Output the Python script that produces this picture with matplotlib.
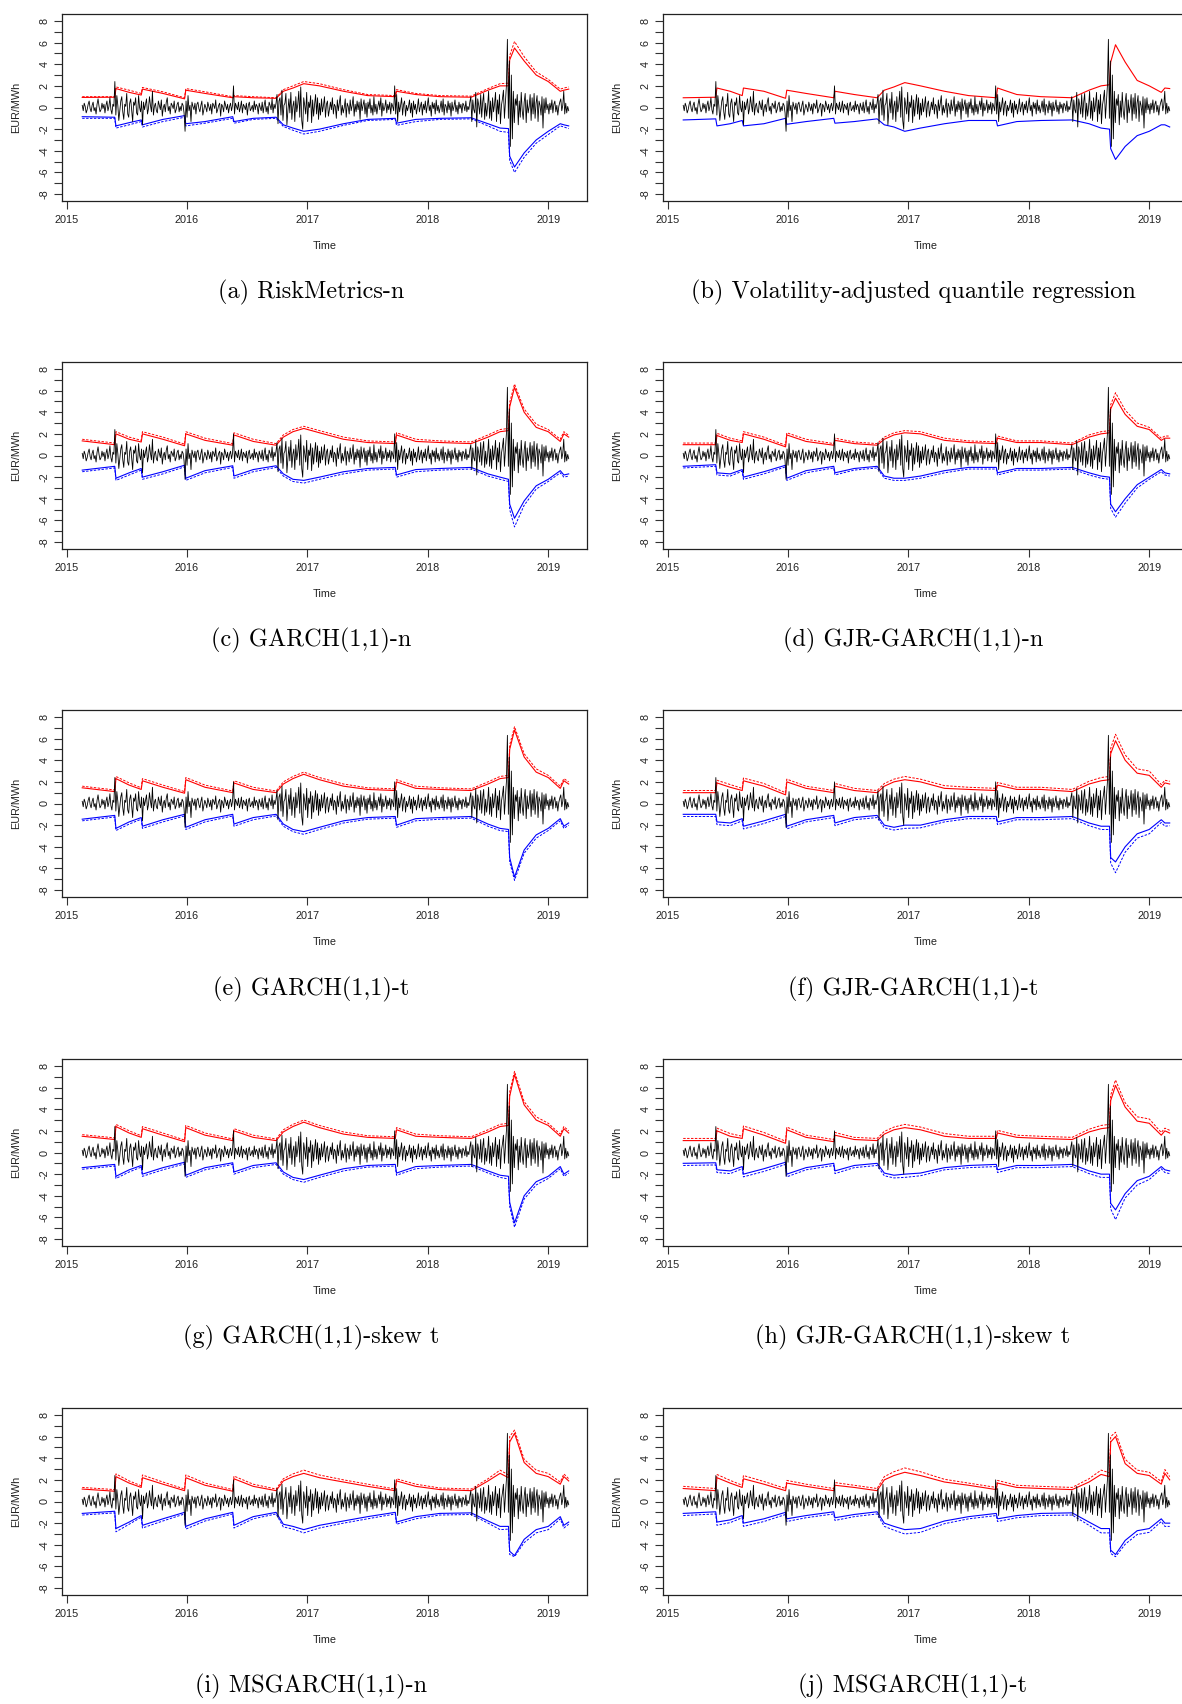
import numpy as np
import matplotlib
matplotlib.use("Agg")
import matplotlib.pyplot as plt
from matplotlib.ticker import FixedLocator, FuncFormatter
from matplotlib.font_manager import FontProperties

# ---------------- data ----------------
t_start, t_end = 2015.13, 2019.17

# daily price changes (EUR/MWh), same series in every panel
black = [
    0.2,-0.3,0.4,0.1,-0.5,-0.2,0.3,0.6,-0.1,-0.4,0.2,0.5,-0.3,0.0,-0.6,0.3,0.8,0.1,-0.4,-0.2,0.4,-0.1,0.3,-0.5,0.2,0.6,-0.3,0.1,0.9,-0.2,-0.6,0.3,0.1,
    2.4,
    -0.7,1.1,0.2,-1.2,-0.3,0.6,1.0,-0.4,-1.1,0.3,0.1,1.3,-0.6,-0.9,0.4,0.8,-0.2,-1.3,0.5,0.2,0.9,-0.5,-0.7,1.1,0.0,-0.4,0.6,
    -1.6,
    0.5,-0.2,0.3,0.8,-0.6,-0.1,1.0,0.2,-0.4,1.5,-0.7,0.1,0.4,-0.3,-0.5,0.6,0.2,-0.2,0.7,-0.8,0.0,0.3,-0.4,0.5,0.9,-0.3,0.1,-0.6,0.4,0.2,-0.1,0.6,-0.5,-0.2,0.3,0.5,-0.4,0.1,-0.3,0.4,0.2,-0.5,
    -2.2,
    0.6,-0.9,1.1,-0.3,0.2,-1.3,0.5,0.1,-0.2,0.4,-0.6,0.3,0.5,-0.1,-0.4,0.2,0.6,-0.7,-0.2,0.3,0.0,-0.4,0.5,0.1,-0.3,0.3,-0.6,0.4,0.2,-0.1,0.7,-0.5,-0.2,0.2,0.4,-0.8,0.3,0.1,-0.4,0.6,0.2,-0.2,0.3,-0.5,0.1,0.4,-0.3,0.2,
    2.0,
    -0.6,0.4,0.1,-0.2,0.5,-0.4,0.0,0.6,-0.5,0.3,0.1,-0.2,0.4,-0.7,0.2,0.5,-0.3,-0.1,0.2,-0.4,0.6,-0.2,0.3,0.1,-0.6,0.4,0.0,-0.3,0.5,-0.5,0.2,0.7,-0.4,0.1,-0.6,0.5,0.2,-0.2,0.8,-0.5,0.3,-0.1,0.4,
    1.2,-1.5,0.6,0.9,-0.7,1.6,-1.2,0.2,0.4,1.3,-1.6,-0.3,0.8,-0.5,1.4,-1.1,0.1,0.6,-1.3,1.0,-0.4,0.3,1.5,-0.9,1.9,-1.2,-2.0,0.9,0.2,-0.6,1.4,-1.3,0.5,0.0,1.1,-1.4,0.7,-0.8,0.3,1.2,-0.6,0.9,-1.1,
    0.4,-0.7,0.8,-0.4,0.2,1.0,-0.9,0.3,0.6,-0.8,-0.2,0.5,-0.2,0.9,-0.6,0.3,0.1,-1.0,0.7,-0.3,0.4,1.1,-0.7,0.2,-0.5,0.0,0.8,-0.9,0.4,0.1,-0.6,0.7,-0.3,0.2,1.0,-0.8,0.3,-0.4,0.6,-0.2,0.5,-1.1,0.8,-0.3,0.2,0.7,-0.6,0.4,-0.9,0.5,-0.1,0.8,-0.5,0.2,-0.7,1.0,-0.4,0.3,-0.6,0.1,0.6,-0.2,0.9,-0.8,0.4,-0.3,0.0,0.7,-0.5,0.3,-0.2,0.5,-0.6,0.4,0.1,-0.3,
    2.0,
    -0.6,1.2,-1.3,0.5,-0.4,0.2,0.9,-0.7,0.3,0.6,-0.8,0.2,-0.3,0.1,0.7,-0.5,0.4,-0.9,0.6,-0.2,0.3,-0.6,0.0,0.8,-0.4,0.1,0.5,-0.7,0.3,-0.2,0.6,-0.5,0.2,0.9,-0.3,0.2,-0.8,0.5,-0.1,0.4,-0.6,0.7,-0.3,0.2,-0.5,0.0,0.6,-0.4,0.8,-0.7,0.3,0.1,-0.5,0.6,-0.2,0.4,-0.8,0.5,-0.3,0.1,0.7,-0.4,0.2,-0.6,0.5,-0.1,0.3,-0.5,0.4,0.2,-0.3,0.6,-0.4,0.1,-0.2,0.5,
    1.0,-1.3,0.7,-0.2,-0.5,1.4,-1.8,0.8,0.2,-0.6,1.2,-0.9,0.5,1.3,-1.1,0.4,-0.8,0.1,1.5,-1.0,0.6,-1.2,0.9,-0.4,0.3,1.4,-1.3,0.7,-0.6,1.2,-1.5,0.2,0.8,1.6,-1.0,0.5,2.0,
    6.3,-1.0,4.3,-3.6,3.0,-2.9,
    1.5,-1.4,0.8,0.2,1.2,-1.6,0.6,-0.9,1.4,-0.3,-1.1,0.5,1.3,-1.4,0.7,-0.5,0.1,1.2,-1.2,0.9,-0.6,1.3,-1.0,0.4,1.1,-1.3,0.6,0.2,-0.7,1.0,-1.9,0.8,-0.5,0.9,-0.2,0.3,
    -0.6,0.4,-0.2,0.7,-0.5,0.3,0.6,-0.4,0.2,-0.7,0.1,0.5,0.8,-0.3,0.2,1.5,-0.6,0.4,-0.5,0.1,-0.3,
]

# times (decimal years) at which the VaR bands are read
knot_t = [2015.13, 2015.40, 2015.41, 2015.52, 2015.62, 2015.63, 2015.80, 2015.98, 2015.99, 2016.15,
          2016.38, 2016.39, 2016.55, 2016.74, 2016.80, 2016.88, 2016.97, 2017.10, 2017.30, 2017.50,
          2017.73, 2017.74, 2017.90, 2018.10, 2018.36, 2018.50, 2018.60, 2018.67, 2018.68, 2018.72,
          2018.80, 2018.90, 2019.00, 2019.10, 2019.13, 2019.17]

captions = ["(a) RiskMetrics-n", "(b) Volatility-adjusted quantile regression",
            "(c) GARCH(1,1)-n", "(d) GJR-GARCH(1,1)-n",
            "(e) GARCH(1,1)-t", "(f) GJR-GARCH(1,1)-t",
            "(g) GARCH(1,1)-skew t", "(h) GJR-GARCH(1,1)-skew t",
            "(i) MSGARCH(1,1)-n", "(j) MSGARCH(1,1)-t"]

up_a = [0.93,0.95,1.75,1.4,1.15, 1.7,1.3,0.8,1.6,1.3, 0.9,1.0,0.9,0.85,1.5, 1.8,2.2,2.0,1.5,1.1, 1.0,1.5,1.2,1.0,0.95, 1.6,2.0,2.0,4.4,5.5, 4.3,3.0,2.4,1.5,1.6, 1.7]
upd_a = [1.0,1.0,1.9,1.6,1.3, 1.85,1.45,0.9,1.75,1.45, 1.0,1.1,1.0,0.9,1.65, 2.0,2.4,2.2,1.65,1.2, 1.1,1.65,1.3,1.1,1.05, 1.75,2.2,2.25,4.8,6.1, 4.7,3.3,2.6,1.7,1.8, 1.9]
lo_a = [-0.85,-0.9,-1.7,-1.4,-1.15, -1.6,-1.1,-0.75,-1.5,-1.3, -0.85,-1.3,-1.0,-0.9,-1.6, -1.9,-2.2,-2.0,-1.5,-1.1, -1.0,-1.45,-1.1,-1.0,-0.95, -1.5,-1.9,-1.95,-4.5,-5.5, -4.2,-3.0,-2.2,-1.5,-1.6, -1.7]
lod_a = [-1.0,-1.0,-1.9,-1.6,-1.3, -1.8,-1.3,-0.9,-1.7,-1.45, -1.0,-1.45,-1.1,-1.0,-1.75, -2.1,-2.45,-2.2,-1.65,-1.2, -1.1,-1.65,-1.3,-1.1,-1.05, -1.7,-2.2,-2.3,-4.9,-6.0, -4.6,-3.3,-2.5,-1.7,-1.8, -1.95]

up_b = [0.9,0.95,1.8,1.5,1.1, 1.8,1.5,0.85,1.6,1.3, 0.9,1.5,1.2,0.9,1.6, 1.9,2.3,2.0,1.5,1.1, 0.9,1.8,1.2,1.0,0.9, 1.6,2.0,2.1,4.2,5.8, 4.2,2.5,2.0,1.4,1.8, 1.75]
lo_b = [-1.15,-1.05,-1.7,-1.5,-1.2, -1.7,-1.5,-1.0,-1.55,-1.3, -1.0,-1.45,-1.3,-1.05,-1.6, -1.8,-2.2,-1.9,-1.5,-1.2, -1.2,-1.7,-1.3,-1.2,-1.15, -1.5,-1.9,-2.0,-3.8,-4.8, -3.6,-2.6,-2.2,-1.6,-1.6, -1.8]

up_c = [1.35,1.0,2.0,1.5,1.25, 2.0,1.5,0.9,2.0,1.4, 0.95,1.9,1.3,0.95,1.7, 2.2,2.5,2.1,1.5,1.2, 1.1,1.9,1.3,1.2,1.1, 1.7,2.2,2.3,4.5,6.3, 4.0,2.6,2.2,1.3,2.0, 1.7]
upd_c = [1.5,1.15,2.2,1.7,1.4, 2.2,1.7,1.05,2.2,1.6, 1.1,2.1,1.5,1.1,1.9, 2.4,2.7,2.3,1.7,1.35, 1.25,2.1,1.5,1.35,1.25, 1.9,2.4,2.5,4.9,6.6, 4.3,2.9,2.4,1.5,2.2, 1.85]
lo_c = [-1.35,-1.0,-2.1,-1.6,-1.2, -2.0,-1.5,-0.9,-2.1,-1.4, -0.95,-1.9,-1.3,-0.95,-1.7, -2.2,-2.3,-2.0,-1.5,-1.2, -1.1,-1.8,-1.3,-1.2,-1.1, -1.7,-2.0,-2.2,-4.5,-5.8, -4.2,-2.8,-2.2,-1.4,-1.8, -1.7]
lod_c = [-1.5,-1.15,-2.3,-1.8,-1.35, -2.2,-1.7,-1.05,-2.3,-1.6, -1.1,-2.1,-1.5,-1.1,-1.9, -2.4,-2.55,-2.2,-1.7,-1.35, -1.25,-2.0,-1.5,-1.35,-1.25, -1.9,-2.2,-2.4,-5.0,-6.6, -4.6,-3.1,-2.4,-1.6,-2.0, -1.9]

up_d = [1.0,1.0,1.85,1.4,1.2, 2.0,1.5,0.8,1.9,1.3, 0.95,1.4,1.1,0.95,1.5, 1.9,2.1,2.0,1.4,1.2, 1.1,1.6,1.2,1.2,1.0, 1.7,2.0,2.1,4.3,5.3, 3.8,2.7,2.4,1.4,1.6, 1.6]
upd_d = [1.15,1.15,2.05,1.6,1.35, 2.2,1.7,0.95,2.1,1.5, 1.1,1.6,1.25,1.1,1.7, 2.1,2.3,2.2,1.6,1.35, 1.25,1.8,1.35,1.35,1.15, 1.9,2.2,2.3,4.7,5.8, 4.2,3.0,2.6,1.6,1.8, 1.8]
lo_d = [-1.0,-0.85,-1.6,-1.7,-1.3, -2.0,-1.5,-0.9,-2.1,-1.4, -1.0,-1.6,-1.2,-1.0,-1.9, -2.1,-2.1,-1.9,-1.4,-1.1, -1.1,-1.6,-1.2,-1.2,-1.1, -1.6,-1.9,-2.0,-4.5,-5.2, -4.0,-2.7,-2.0,-1.3,-1.6, -1.7]
lod_d = [-1.15,-1.0,-1.8,-1.9,-1.45, -2.2,-1.7,-1.05,-2.3,-1.6, -1.15,-1.8,-1.35,-1.15,-2.1, -2.3,-2.3,-2.1,-1.6,-1.25, -1.25,-1.8,-1.35,-1.35,-1.25, -1.8,-2.1,-2.2,-4.9,-5.7, -4.4,-3.0,-2.2,-1.5,-1.8, -1.9]

up_e = [1.45,1.1,2.3,1.7,1.3, 2.1,1.5,0.95,2.2,1.5, 1.0,1.9,1.3,1.0,1.8, 2.3,2.7,2.2,1.6,1.3, 1.2,2.0,1.4,1.3,1.2, 1.8,2.3,2.4,5.0,6.8, 4.3,2.9,2.4,1.4,2.1, 1.8]
upd_e = [1.6,1.25,2.5,1.9,1.45, 2.3,1.7,1.1,2.4,1.7, 1.15,2.1,1.5,1.15,2.0, 2.5,2.9,2.4,1.8,1.45, 1.35,2.2,1.6,1.45,1.35, 2.0,2.5,2.6,5.4,7.1, 4.6,3.2,2.6,1.6,2.3, 2.0]
lo_e = [-1.45,-1.1,-2.3,-1.7,-1.3, -2.1,-1.5,-1.0,-2.2,-1.5, -1.0,-1.9,-1.3,-1.0,-1.9, -2.4,-2.6,-2.2,-1.6,-1.3, -1.2,-2.0,-1.4,-1.3,-1.2, -1.9,-2.3,-2.4,-5.0,-6.8, -4.3,-2.9,-2.3,-1.4,-2.1, -1.8]
lod_e = [-1.6,-1.25,-2.5,-1.9,-1.45, -2.3,-1.7,-1.15,-2.4,-1.7, -1.15,-2.1,-1.5,-1.15,-2.1, -2.6,-2.85,-2.4,-1.8,-1.45, -1.35,-2.2,-1.6,-1.45,-1.35, -2.1,-2.5,-2.6,-5.4,-7.1, -4.6,-3.2,-2.5,-1.6,-2.3, -2.0]

up_f = [1.0,1.0,1.9,1.5,1.2, 2.1,1.6,0.8,2.0,1.4, 1.0,1.6,1.2,1.0,1.6, 2.0,2.2,2.0,1.4,1.3, 1.2,1.7,1.3,1.3,1.1, 1.8,2.1,2.2,4.6,5.8, 4.0,2.8,2.6,1.5,1.9, 1.8]
upd_f = [1.2,1.2,2.15,1.75,1.4, 2.35,1.85,1.0,2.25,1.6, 1.2,1.85,1.4,1.2,1.85, 2.25,2.5,2.25,1.65,1.5, 1.4,1.95,1.5,1.5,1.3, 2.05,2.4,2.5,5.1,6.4, 4.5,3.2,3.0,1.75,2.15, 2.05]
lo_f = [-1.0,-1.0,-1.7,-1.8,-1.4, -2.1,-1.6,-1.0,-2.1,-1.5, -1.1,-1.8,-1.3,-1.1,-2.0, -2.2,-2.0,-2.0,-1.5,-1.2, -1.2,-1.7,-1.3,-1.3,-1.2, -1.8,-2.1,-2.1,-5.0,-5.4, -4.0,-2.8,-2.4,-1.5,-1.8, -1.8]
lod_f = [-1.2,-1.2,-1.95,-2.05,-1.6, -2.35,-1.85,-1.2,-2.35,-1.7, -1.3,-2.05,-1.5,-1.3,-2.25, -2.45,-2.3,-2.25,-1.7,-1.4, -1.4,-1.95,-1.5,-1.5,-1.4, -2.05,-2.4,-2.4,-5.5,-6.4, -4.5,-3.2,-2.8,-1.75,-2.1, -2.05]

up_g = [1.5,1.2,2.4,1.8,1.4, 2.2,1.6,1.0,2.3,1.6, 1.1,2.0,1.4,1.1,1.9, 2.4,2.8,2.3,1.7,1.4, 1.3,2.1,1.5,1.4,1.3, 1.9,2.4,2.5,5.2,7.2, 4.4,3.0,2.5,1.5,2.2, 1.8]
upd_g = [1.65,1.35,2.6,2.0,1.55, 2.4,1.8,1.15,2.5,1.8, 1.25,2.2,1.6,1.25,2.1, 2.6,3.0,2.5,1.9,1.55, 1.45,2.3,1.7,1.55,1.45, 2.1,2.6,2.7,5.6,7.5, 4.7,3.3,2.7,1.7,2.4, 2.0]
lo_g = [-1.4,-1.1,-2.2,-1.6,-1.2, -2.0,-1.4,-0.9,-2.1,-1.4, -0.95,-1.8,-1.2,-0.95,-1.8, -2.3,-2.5,-2.1,-1.5,-1.2, -1.1,-1.9,-1.3,-1.2,-1.1, -1.7,-2.1,-2.2,-4.6,-6.5, -4.0,-2.7,-2.2,-1.3,-2.0, -1.7]
lod_g = [-1.55,-1.25,-2.4,-1.8,-1.35, -2.2,-1.6,-1.05,-2.3,-1.6, -1.1,-2.0,-1.4,-1.1,-2.0, -2.5,-2.75,-2.3,-1.7,-1.35, -1.25,-2.1,-1.5,-1.35,-1.25, -1.9,-2.3,-2.45,-5.0,-6.9, -4.3,-3.0,-2.4,-1.5,-2.2, -1.9]

up_h = [1.1,1.1,2.0,1.5,1.3, 2.2,1.6,0.85,2.1,1.4, 1.0,1.6,1.2,1.1,1.7, 2.1,2.3,2.1,1.5,1.3, 1.3,1.8,1.4,1.3,1.2, 1.9,2.2,2.3,4.8,6.2, 4.2,2.9,2.7,1.6,2.0, 1.8]
upd_h = [1.3,1.3,2.25,1.75,1.5, 2.45,1.85,1.05,2.35,1.6, 1.2,1.85,1.4,1.3,1.95, 2.35,2.6,2.35,1.75,1.5, 1.5,2.05,1.6,1.5,1.4, 2.15,2.5,2.6,5.3,6.7, 4.6,3.3,3.1,1.85,2.25, 2.05]
lo_h = [-1.0,-0.95,-1.6,-1.7,-1.3, -2.0,-1.5,-0.9,-2.0,-1.4, -1.0,-1.7,-1.2,-1.0,-1.9, -2.1,-2.0,-1.9,-1.4,-1.2, -1.1,-1.6,-1.2,-1.2,-1.1, -1.7,-2.0,-2.0,-4.7,-5.3, -3.8,-2.6,-2.2,-1.3,-1.6, -1.7]
lod_h = [-1.2,-1.15,-1.85,-1.95,-1.5, -2.25,-1.75,-1.1,-2.25,-1.6, -1.2,-1.95,-1.4,-1.2,-2.15, -2.35,-2.3,-2.15,-1.6,-1.4, -1.3,-1.85,-1.4,-1.4,-1.3, -1.95,-2.3,-2.3,-5.2,-6.2, -4.2,-3.0,-2.5,-1.5,-1.85, -1.95]

up_i = [1.15,0.95,2.3,1.7,1.3, 2.2,1.6,1.0,2.2,1.5, 0.95,2.1,1.4,1.0,1.9, 2.3,2.6,2.2,1.8,1.4, 1.0,1.9,1.4,1.1,1.0, 1.9,2.6,2.2,5.5,6.3, 3.6,2.6,2.3,1.6,2.3, 1.9]
upd_i = [1.3,1.1,2.55,1.9,1.45, 2.45,1.8,1.15,2.45,1.7, 1.1,2.35,1.6,1.15,2.1, 2.55,2.9,2.45,2.0,1.6, 1.15,2.1,1.6,1.25,1.15, 2.1,2.9,2.45,6.0,6.6, 3.9,2.9,2.6,1.8,2.55, 2.1]
lo_i = [-1.1,-0.9,-2.5,-1.9,-1.3, -2.2,-1.6,-1.0,-2.3,-1.6, -1.0,-2.2,-1.4,-1.0,-2.1, -2.3,-2.6,-2.2,-1.8,-1.4, -1.0,-1.9,-1.4,-1.1,-1.05, -1.8,-2.3,-2.3,-4.6,-5.0, -3.5,-2.6,-2.3,-1.4,-2.2, -1.9]
lod_i = [-1.25,-1.05,-2.8,-2.1,-1.45, -2.45,-1.8,-1.15,-2.55,-1.8, -1.15,-2.45,-1.6,-1.15,-2.35, -2.55,-2.9,-2.45,-2.0,-1.6, -1.15,-2.1,-1.6,-1.25,-1.2, -2.0,-2.6,-2.55,-4.9,-5.1, -3.8,-2.9,-2.6,-1.6,-2.45, -2.1]

up_j = [1.2,1.0,2.2,1.7,1.3, 2.1,1.6,1.0,1.7,1.4, 1.0,1.5,1.3,1.0,2.0, 2.4,2.7,2.4,1.8,1.5, 1.1,1.7,1.3,1.2,1.1, 1.8,2.5,2.3,5.5,6.0, 3.5,2.6,2.4,1.6,2.6, 2.0]
upd_j = [1.4,1.2,2.5,1.95,1.5, 2.4,1.85,1.2,1.95,1.6, 1.2,1.75,1.5,1.2,2.3, 2.75,3.1,2.75,2.05,1.7, 1.3,1.95,1.5,1.4,1.3, 2.1,2.9,2.65,6.0,6.4, 3.9,2.9,2.7,1.85,2.95, 2.3]
lo_j = [-1.1,-0.95,-1.9,-1.7,-1.3, -2.0,-1.6,-1.0,-1.6,-1.3, -0.95,-1.5,-1.2,-0.95,-2.0, -2.3,-2.6,-2.5,-1.8,-1.4, -1.1,-1.6,-1.3,-1.1,-1.05, -1.9,-2.5,-2.5,-4.5,-4.9, -3.6,-2.7,-2.5,-1.6,-2.0, -2.0]
lod_j = [-1.3,-1.15,-2.2,-1.95,-1.5, -2.3,-1.85,-1.2,-1.85,-1.5, -1.15,-1.75,-1.4,-1.15,-2.3, -2.65,-3.0,-2.85,-2.05,-1.6, -1.3,-1.85,-1.5,-1.3,-1.25, -2.2,-2.9,-2.9,-4.8,-5.1, -3.95,-3.05,-2.85,-1.85,-2.3, -2.3]

x_ticks = [2015, 2016, 2017, 2018, 2019]
y_ticks = list(range(-8, 9))

# ---------------- figure ----------------
W, H = 1182, 1704
fig = plt.figure(figsize=(W / 100, H / 100), dpi=100)

panels = [
    (up_a, upd_a, lo_a, lod_a), (up_b, None, lo_b, None),
    (up_c, upd_c, lo_c, lod_c), (up_d, upd_d, lo_d, lod_d),
    (up_e, upd_e, lo_e, lod_e), (up_f, upd_f, lo_f, lod_f),
    (up_g, upd_g, lo_g, lod_g), (up_h, upd_h, lo_h, lod_h),
    (up_i, upd_i, lo_i, lod_i), (up_j, upd_j, lo_j, lod_j),
]

t_black = np.linspace(t_start, t_end, len(black))
sans = ["Liberation Sans", "DejaVu Sans"]
tick_fp = FontProperties(family=sans, size=7.8)
col_left = [62, 663]
box_w, box_h = 525, 187
row_top = [14, 362, 710, 1059, 1408]
cap_x = [311, 913]
cap_y = [292, 640, 989, 1337, 1686]

for k, (up, upd, lo, lod) in enumerate(panels):
    r, c = divmod(k, 2)
    ax = fig.add_axes([col_left[c] / W, 1 - (row_top[r] + box_h) / H, box_w / W, box_h / H])
    if upd is not None:
        ax.plot(knot_t, upd, color="#ff0000", lw=0.7, ls=(0, (2.5, 1.5)))
        ax.plot(knot_t, lod, color="#0000ff", lw=0.7, ls=(0, (2.5, 1.5)))
    ax.plot(knot_t, up, color="#ff0000", lw=0.8)
    ax.plot(knot_t, lo, color="#0000ff", lw=0.8)
    ax.plot(t_black, black, color="black", lw=0.6)

    ax.set_xlim(2014.962, 2019.322)
    ax.set_ylim(-8.64, 8.64)
    ax.xaxis.set_major_locator(FixedLocator(x_ticks))
    ax.xaxis.set_major_formatter(FuncFormatter(lambda v, p: f"{int(round(v))}"))
    ax.yaxis.set_major_locator(FixedLocator(y_ticks))
    ax.yaxis.set_major_formatter(FuncFormatter(lambda v, p: f"{int(round(v))}" if int(round(v)) % 2 == 0 else ""))
    ax.tick_params(axis="both", direction="out", length=5.5, width=0.8, color="#333333", pad=3.5)
    ax.tick_params(axis="x", pad=4.5)
    for lab in ax.get_xticklabels():
        lab.set_fontproperties(tick_fp)
        lab.set_color("#222222")
    for lab in ax.get_yticklabels():
        lab.set_fontproperties(tick_fp)
        lab.set_rotation(90)
        lab.set_va("center")
        lab.set_color("#222222")
    for s in ax.spines.values():
        s.set_linewidth(0.9)
        s.set_color("#222222")
    ax.set_xlabel("Time", fontfamily=sans, fontsize=7.8, color="#222222")
    ax.xaxis.set_label_coords(0.5, -40 / box_h)
    ax.set_ylabel("EUR/MWh", fontfamily=sans, fontsize=7.8, color="#222222")
    ax.yaxis.set_label_coords(-41 / box_w, 0.5)

    fig.text(cap_x[c] / W, 1 - cap_y[r] / H, captions[k], ha="center", va="center",
             fontfamily="cmr10", fontsize=17.5, color="black")

fig.savefig("out.png", dpi=100)
